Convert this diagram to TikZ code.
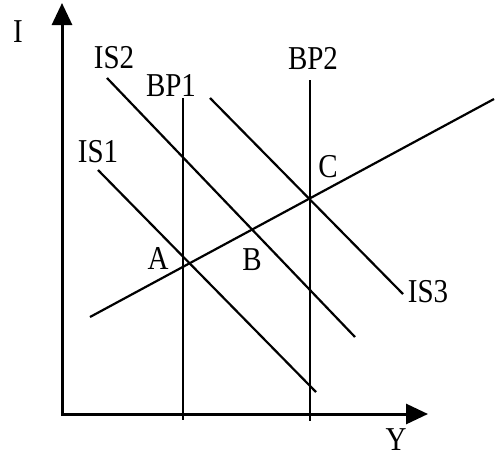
\documentclass[tikz,border=0pt]{standalone}
\usepackage{fontspec}
\usepackage{graphicx}
\setmainfont{Liberation Serif}
\usetikzlibrary{arrows.meta}
\newcommand{\tallt}[1]{\scalebox{1}[1.15]{#1}}
\begin{document}
\begin{tikzpicture}[x=1pt,y=-1pt,
  axis/.style={line width=3pt,line join=miter,{Triangle[length=22pt,width=20pt]}-{Triangle[length=22pt,width=20pt]}},
  curve/.style={line width=2.2pt},
  lbl/.style={inner sep=0pt,font=\fontsize{29}{34}\selectfont}]
\useasboundingbox (0,0) rectangle (496,459);
% axes
\coordinate (ytop) at (62,3);
\coordinate (orig) at (62,414);
\coordinate (xend) at (428,414);
\draw[axis] (ytop) -- (orig) -- (xend);
% curves
\coordinate (bp1a) at (183,98);  \coordinate (bp1b) at (183,420);
\coordinate (bp2a) at (310,80);  \coordinate (bp2b) at (310,421);
\coordinate (is1a) at (98,170);  \coordinate (is1b) at (316,392);
\coordinate (is2a) at (107,78);  \coordinate (is2b) at (355,337);
\coordinate (is3a) at (210,98);  \coordinate (is3b) at (403,294);
\coordinate (bpa) at (90,317);   \coordinate (bpb) at (494,99);
\draw[curve] (bp1a) -- (bp1b);
\draw[curve] (bp2a) -- (bp2b);
\draw[curve] (is1a) -- (is1b);
\draw[curve] (is2a) -- (is2b);
\draw[curve] (is3a) -- (is3b);
\draw[curve] (bpa) -- (bpb);
% labels
\node[lbl] (lI) at (18,32) {\tallt{I}};
\node[lbl] (lIS2) at (114,58) {\tallt{IS2}};
\node[lbl] (lBP1) at (171,86) {\tallt{BP1}};
\node[lbl] (lIS1) at (98,152) {\tallt{IS1}};
\node[lbl] (lBP2) at (313,59) {\tallt{BP2}};
\node[lbl] (lC) at (328,167) {\tallt{C}};
\node[lbl] (lA) at (158,258) {\tallt{A}};
\node[lbl] (lB) at (252,260) {\tallt{B}};
\node[lbl] (lIS3) at (428,292) {\tallt{IS3}};
\node[lbl] (lY) at (396,440) {\tallt{Y}};
\end{tikzpicture}
\end{document}
